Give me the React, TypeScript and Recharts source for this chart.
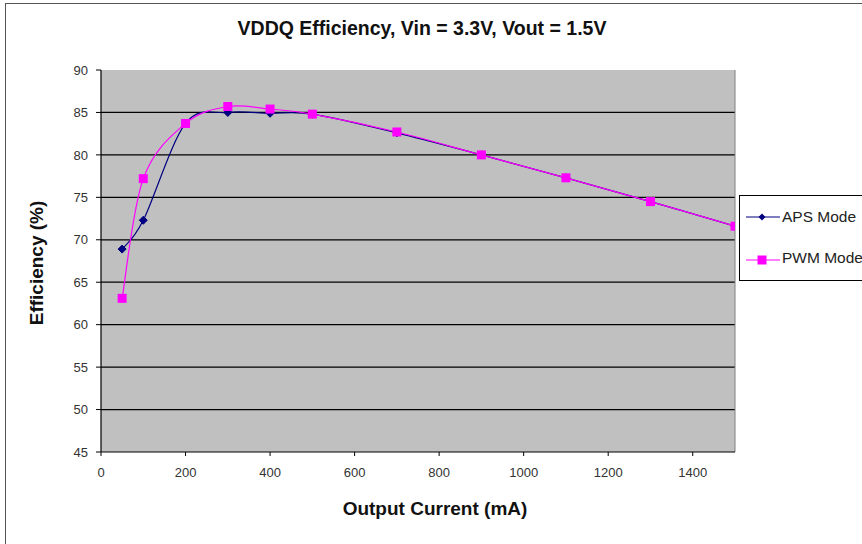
import React from "react";
import { LineChart, Line, XAxis, YAxis, CartesianGrid, Legend, ReferenceLine } from "recharts";

const currentMA = [50, 100, 200, 300, 400, 500, 700, 900, 1100, 1300, 1500];
const apsMode = [68.9, 72.3, 83.7, 85.0, 84.9, 84.8, 82.6, 80.0, 77.3, 74.5, 71.6];
const pwmMode = [63.1, 77.2, 83.7, 85.7, 85.4, 84.8, 82.7, 80.0, 77.3, 74.5, 71.6];
const xMajorTicks = [0, 200, 400, 600, 800, 1000, 1200, 1400];
const yMajorTicks = [45, 50, 55, 60, 65, 70, 75, 80, 85, 90];
const xMinorTicks = Array.from({ length: 38 }, (_, i) => i * 40);
const yMinorTicks = Array.from({ length: 46 }, (_, i) => 45 + i);

const data = currentMA.map((c, i) => ({ current: c, aps: apsMode[i], pwm: pwmMode[i] }));

const FONT = "'Liberation Sans', Arial, sans-serif";

// Excel-like smoothing (Catmull-Rom as cubic Bezier)
const excelSmooth: any = (context: any) => {
  let pts: number[][] = [];
  return {
    areaStart() {},
    areaEnd() {},
    lineStart() { pts = []; },
    point(x: number, y: number) { pts.push([+x, +y]); },
    lineEnd() {
      if (!pts.length) return;
      context.moveTo(pts[0][0], pts[0][1]);
      for (let i = 0; i < pts.length - 1; i++) {
        const p0 = pts[i - 1] || pts[i];
        const p1 = pts[i];
        const p2 = pts[i + 1];
        const p3 = pts[i + 2] || pts[i + 1];
        const c1x = p1[0] + (p2[0] - p0[0]) / 6;
        const c1y = p1[1] + (p2[1] - p0[1]) / 6;
        const c2x = p2[0] - (p3[0] - p1[0]) / 6;
        const c2y = p2[1] - (p3[1] - p1[1]) / 6;
        context.bezierCurveTo(c1x, c1y, c2x, c2y, p2[0], p2[1]);
      }
    },
  };
};

const Diamond = (props: any) => {
  const { cx, cy, index } = props;
  if (cx == null || cy == null) return <g key={`d${index}`} />;
  const r = 4;
  return (
    <polygon
      key={`d${index}`}
      points={`${cx},${cy - r} ${cx + r},${cy} ${cx},${cy + r} ${cx - r},${cy}`}
      fill="#000080"
      stroke="#000080"
    />
  );
};

const Square = (props: any) => {
  const { cx, cy, index } = props;
  if (cx == null || cy == null) return <g key={`s${index}`} />;
  const s = 9;
  return <rect key={`s${index}`} x={cx - s / 2} y={cy - s / 2} width={s} height={s} fill="#ff00ff" />;
};

const LegendBox = () => (
  <div
    style={{
      border: "1px solid #000",
      background: "#fff",
      width: 140,
      height: 86,
      boxSizing: "border-box",
      fontFamily: FONT,
      fontSize: 15.5,
      color: "#222",
      position: "relative",
    }}
  >
    <svg width={44} height={84} style={{ position: "absolute", left: 0, top: 0 }}>
      <line x1={6} y1={21} x2={40} y2={21} stroke="#000080" strokeWidth={1.2} />
      <polygon points="22,17.5 25.5,21 22,24.5 18.5,21" fill="#000080" />
      <line x1={6} y1={64} x2={40} y2={64} stroke="#ff00ff" strokeWidth={1.2} />
      <rect x={17.5} y={59.5} width={9} height={9} fill="#ff00ff" />
    </svg>
    <div style={{ position: "absolute", left: 42, top: 12, whiteSpace: "nowrap" }}>APS Mode</div>
    <div style={{ position: "absolute", left: 42, top: 53, whiteSpace: "nowrap" }}>PWM Mode</div>
  </div>
);

export default function App() {
  return (
    <div style={{ position: "absolute", left: 0, top: 0, width: 862, height: 544, background: "#fff", overflow: "hidden" }}>
      <div
        style={{
          position: "absolute",
          left: 5,
          top: 3,
          width: 900,
          height: 600,
          border: "1px solid #555",
        }}
      />
      <div
        style={{
          position: "absolute",
          left: 0,
          width: 844,
          top: 17,
          textAlign: "center",
          fontFamily: FONT,
          fontWeight: "bold",
          fontSize: 19.5,
          color: "#111",
          whiteSpace: "nowrap",
        }}
      >
        VDDQ Efficiency, Vin = 3.3V, Vout = 1.5V
      </div>
      <div
        style={{
          position: "absolute",
          left: 0,
          width: 870,
          top: 498,
          textAlign: "center",
          fontFamily: FONT,
          fontWeight: "bold",
          fontSize: 19,
          color: "#111",
        }}
      >
        Output Current (mA)
      </div>
      <div
        style={{
          position: "absolute",
          left: 37,
          top: 263,
          transform: "translate(-50%, -50%) rotate(-90deg)",
          fontFamily: FONT,
          fontWeight: "bold",
          fontSize: 19,
          color: "#111",
          whiteSpace: "nowrap",
        }}
      >
        Efficiency (%)
      </div>
      <div style={{ position: "absolute", left: 0, top: 0 }}>
        <LineChart width={862} height={544} data={data} margin={{ top: 70, right: 127, bottom: 62, left: 41 }}>
          <CartesianGrid horizontal={true} vertical={false} stroke="#000" strokeWidth={1.2} fill="#c0c0c0" horizontalValues={[50, 55, 60, 65, 70, 75, 80, 85]} />
          <XAxis
            xAxisId="minor"
            type="number"
            dataKey="current"
            domain={[0, 1500]}
            ticks={xMinorTicks}
            mirror
            height={1}
            tick={false}
            tickSize={3}
            axisLine={false}
            tickLine={{ stroke: "#000" }}
            interval={0}
            allowDataOverflow
          />
          <XAxis
            type="number"
            dataKey="current"
            domain={[0, 1500]}
            ticks={xMajorTicks}
            interval={0}
            height={30}
            tickSize={4}
            tickMargin={12}
            axisLine={{ stroke: "#000", strokeWidth: 1.2 }}
            tickLine={{ stroke: "#000" }}
            tick={{ fill: "#333", fontSize: 13, fontFamily: FONT }}
            allowDataOverflow
          />
          <YAxis
            yAxisId="minor"
            type="number"
            domain={[45, 90]}
            ticks={yMinorTicks}
            mirror
            width={1}
            tick={false}
            tickSize={3}
            axisLine={false}
            tickLine={{ stroke: "#000" }}
            interval={0}
            allowDataOverflow
          />
          <YAxis
            type="number"
            domain={[45, 90]}
            ticks={yMajorTicks}
            interval={0}
            width={60}
            tickSize={5}
            tickMargin={8}
            axisLine={{ stroke: "#000", strokeWidth: 1.2 }}
            tickLine={{ stroke: "#000" }}
            tick={{ fill: "#333", fontSize: 13, fontFamily: FONT }}
            allowDataOverflow
          />
          <ReferenceLine x={1500} stroke="#808080" strokeWidth={1} />
          <Line
            dataKey="aps"
            name="APS Mode"
            type={excelSmooth}
            stroke="#000080"
            strokeWidth={1.2}
            dot={Diamond}
            activeDot={false}
            isAnimationActive={false}
          />
          <Line
            dataKey="pwm"
            name="PWM Mode"
            type={excelSmooth}
            stroke="#ff00ff"
            strokeWidth={1.2}
            dot={Square}
            activeDot={false}
            isAnimationActive={false}
          />
          <Legend
            layout="vertical"
            align="center"
            verticalAlign="middle"
            content={() => <LegendBox />}
            wrapperStyle={{ position: "absolute", left: 739, top: 195, width: 140, height: 86 }}
          />
        </LineChart>
      </div>
    </div>
  );
}
